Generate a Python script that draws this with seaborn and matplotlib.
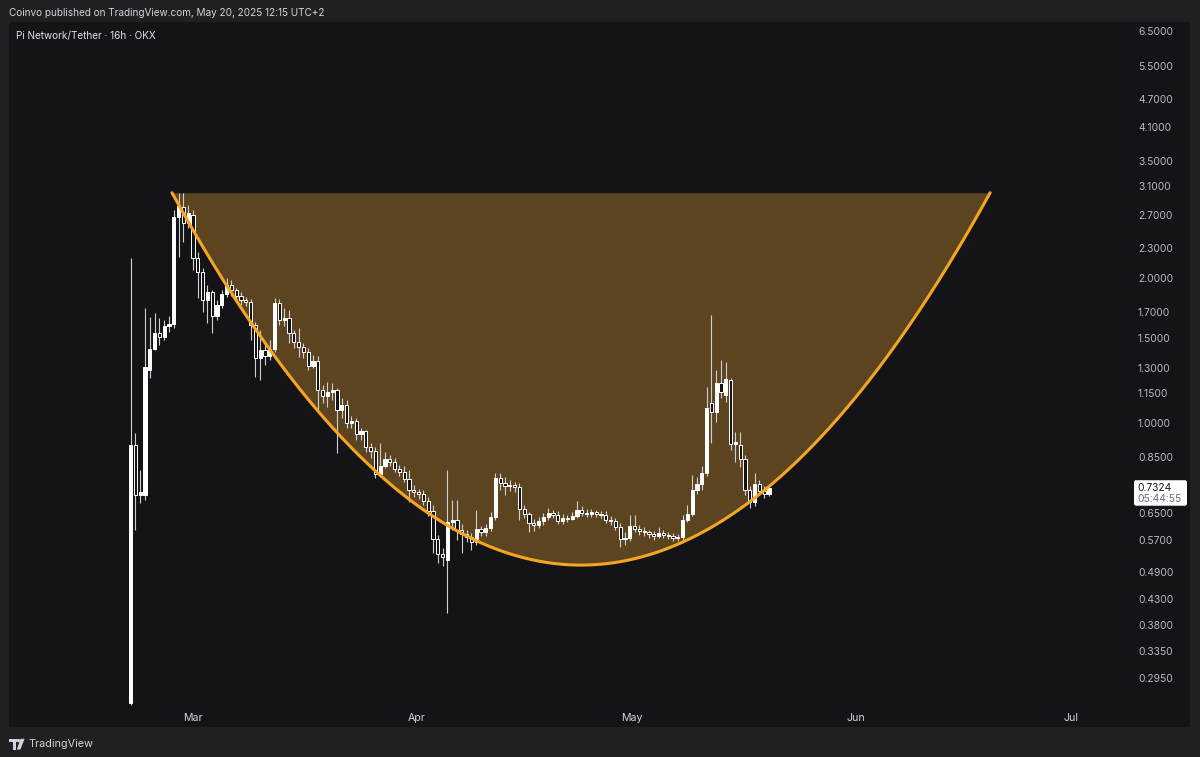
import numpy as np
import pandas as pd
import matplotlib
matplotlib.use("Agg")
import matplotlib.pyplot as plt
import matplotlib.dates as mdates
from matplotlib.ticker import FixedLocator, FuncFormatter, NullLocator
from matplotlib.patches import Rectangle, FancyBboxPatch, Polygon, Circle
from matplotlib.transforms import IdentityTransform
import seaborn as sns

# PI/USDT 16h candles on OKX, from listing to publish time
first_candle = "2025-02-20 08:00"
opens = [
    0.262, 0.898, 0.707, 0.707, 1.286, 1.422, 1.535, 1.506, 1.586, 1.602,
    2.672, 2.803, 2.597, 2.698, 2.196, 2.054, 1.797, 1.867, 1.665, 1.754,
    1.849, 1.930, 1.885, 1.831, 1.797, 1.780, 1.594, 1.361, 1.415, 1.374,
    1.422, 1.771, 1.633, 1.649, 1.535, 1.470, 1.435, 1.402, 1.311, 1.343,
    1.169, 1.136, 1.158, 1.169, 1.062, 1.088, 0.998, 1.007, 0.947, 0.960,
    0.889, 0.873, 0.782, 0.813, 0.841, 0.828, 0.802, 0.790, 0.763, 0.725,
    0.718, 0.711, 0.688, 0.655, 0.573, 0.534, 0.519, 0.622, 0.628, 0.598,
    0.587, 0.579, 0.566, 0.601, 0.592, 0.604, 0.637, 0.767, 0.749, 0.738,
    0.742, 0.735, 0.661, 0.646, 0.619, 0.613, 0.625, 0.637, 0.649, 0.643,
    0.625, 0.634, 0.631, 0.640, 0.658, 0.649, 0.646, 0.652, 0.646, 0.643,
    0.628, 0.625, 0.607, 0.573, 0.576, 0.610, 0.601, 0.595, 0.592, 0.587,
    0.581, 0.590, 0.584, 0.581, 0.576, 0.579, 0.628, 0.646, 0.725, 0.746,
    0.786, 1.100, 1.052, 1.208, 1.141, 1.226, 0.902, 0.898, 0.841, 0.725,
    0.684, 0.746, 0.721, 0.711,
]
highs = [
    2.196, 0.951, 0.797, 1.729, 1.657, 1.689, 1.649, 1.633, 1.665, 2.763,
    2.997, 2.997, 2.830, 2.763, 2.260, 2.094, 1.930, 1.885, 1.797, 1.885,
    1.996, 1.977, 1.903, 1.867, 1.823, 1.805, 1.618, 1.557, 1.470, 1.484,
    1.814, 1.805, 1.729, 1.713, 1.557, 1.571, 1.463, 1.429, 1.381, 1.374,
    1.197, 1.214, 1.209, 1.180, 1.125, 1.114, 1.032, 1.022, 0.975, 0.965,
    0.907, 0.889, 0.907, 0.869, 0.857, 0.845, 0.817, 0.813, 0.797, 0.742,
    0.728, 0.725, 0.700, 0.674, 0.584, 0.549, 0.797, 0.691, 0.691, 0.616,
    0.598, 0.590, 0.658, 0.610, 0.616, 0.652, 0.786, 0.786, 0.771, 0.760,
    0.753, 0.749, 0.674, 0.652, 0.631, 0.637, 0.649, 0.664, 0.658, 0.655,
    0.646, 0.643, 0.652, 0.687, 0.671, 0.661, 0.661, 0.658, 0.655, 0.655,
    0.640, 0.634, 0.619, 0.592, 0.643, 0.643, 0.613, 0.607, 0.598, 0.595,
    0.607, 0.598, 0.592, 0.590, 0.587, 0.643, 0.674, 0.778, 0.771, 0.813,
    1.185, 1.673, 1.286, 1.349, 1.335, 1.237, 0.955, 0.955, 0.857, 0.738,
    0.786, 0.760, 0.738, 0.742,
]
lows = [
    0.259, 0.598, 0.681, 0.691, 1.237, 1.415, 1.449, 1.484, 1.542, 1.571,
    2.207, 2.371, 2.535, 2.074, 1.814, 1.697, 1.610, 1.535, 1.633, 1.729,
    1.823, 1.831, 1.780, 1.754, 1.746, 1.484, 1.243, 1.226, 1.317, 1.349,
    1.402, 1.594, 1.586, 1.463, 1.429, 1.368, 1.361, 1.286, 1.298, 1.052,
    1.098, 1.078, 1.114, 0.865, 1.022, 0.975, 0.975, 0.920, 0.920, 0.869,
    0.845, 0.767, 0.771, 0.805, 0.813, 0.790, 0.774, 0.753, 0.684, 0.700,
    0.694, 0.674, 0.640, 0.536, 0.512, 0.504, 0.4025, 0.598, 0.571, 0.536,
    0.566, 0.544, 0.557, 0.581, 0.581, 0.595, 0.628, 0.725, 0.707, 0.721,
    0.718, 0.628, 0.634, 0.592, 0.595, 0.604, 0.613, 0.628, 0.634, 0.616,
    0.616, 0.622, 0.628, 0.634, 0.640, 0.637, 0.637, 0.637, 0.634, 0.619,
    0.613, 0.598, 0.552, 0.557, 0.568, 0.592, 0.584, 0.581, 0.576, 0.571,
    0.576, 0.576, 0.573, 0.568, 0.568, 0.571, 0.622, 0.640, 0.711, 0.725,
    0.774, 0.907, 1.003, 1.125, 1.103, 0.877, 0.828, 0.809, 0.707, 0.665,
    0.671, 0.711, 0.697, 0.704,
]
closes = [
    0.898, 0.707, 0.718, 1.304, 1.422, 1.535, 1.506, 1.586, 1.602, 2.672,
    2.816, 2.597, 2.724, 2.196, 2.054, 1.797, 1.867, 1.665, 1.754, 1.849,
    1.930, 1.885, 1.831, 1.797, 1.780, 1.594, 1.361, 1.415, 1.374, 1.422,
    1.771, 1.633, 1.649, 1.535, 1.470, 1.435, 1.402, 1.311, 1.343, 1.169,
    1.136, 1.158, 1.169, 1.062, 1.088, 0.998, 1.007, 0.947, 0.960, 0.889,
    0.873, 0.782, 0.813, 0.841, 0.828, 0.802, 0.790, 0.763, 0.725, 0.718,
    0.711, 0.688, 0.655, 0.573, 0.534, 0.526, 0.622, 0.628, 0.598, 0.587,
    0.579, 0.566, 0.601, 0.592, 0.604, 0.637, 0.767, 0.749, 0.738, 0.742,
    0.735, 0.661, 0.646, 0.619, 0.613, 0.625, 0.637, 0.649, 0.643, 0.625,
    0.634, 0.631, 0.640, 0.658, 0.649, 0.646, 0.652, 0.646, 0.643, 0.628,
    0.625, 0.607, 0.573, 0.576, 0.610, 0.601, 0.595, 0.592, 0.587, 0.581,
    0.590, 0.584, 0.581, 0.576, 0.579, 0.628, 0.646, 0.725, 0.746, 0.786,
    1.072, 1.052, 1.208, 1.158, 1.232, 0.902, 0.911, 0.841, 0.725, 0.684,
    0.746, 0.721, 0.711, 0.7324,
]

# cup drawing: start, bottom and end anchors
cup_dates = ["2025-02-26 02:00", "2025-04-23 18:00", "2025-06-19 17:00"]
cup_prices = [3.0, 0.506, 3.0]

price_ticks = [0.295, 0.335, 0.38, 0.43, 0.49, 0.57, 0.65, 0.85, 1.0, 1.15,
               1.3, 1.5, 1.7, 2.0, 2.3, 2.7, 3.1, 3.5, 4.1, 4.7, 5.5, 6.5]
month_ticks = ["2025-03-01", "2025-04-01", "2025-05-01", "2025-06-01", "2025-07-01"]
month_labels = ["Mar", "Apr", "May", "Jun", "Jul"]
last_price = 0.7324
countdown = "05:44:55"

BG = "#202022"
PANEL = "#141418"
TXT = "#d1d4dc"
ORANGE = "#f5a524"
CUP_FILL = "#5c4421"

sns.set_style("dark")
plt.rcParams["font.family"] = ["Inter", "DejaVu Sans"]

W, H = 1200, 757
fig = plt.figure(figsize=(12, 7.57), dpi=100)
fig.patch.set_facecolor(BG)

# chart panel
fig.add_artist(FancyBboxPatch((9 / W, 30 / H), 1181 / W, 705 / H,
                              boxstyle="round,pad=0,rounding_size=0.003",
                              transform=fig.transFigure, facecolor=PANEL,
                              edgecolor="none", zorder=0))

ax = fig.add_axes([9 / W, (H - 706) / H, (1120 - 9) / W, (706 - 22) / H])
ax.patch.set_alpha(0)
for s in ax.spines.values():
    s.set_visible(False)

df = pd.DataFrame({"open": opens, "high": highs, "low": lows, "close": closes})
df["t"] = mdates.date2num(pd.date_range(first_candle, periods=len(df), freq="16h"))
up = df["close"] >= df["open"]

# cup: parabola through the three anchors (time vs log price)
cx = mdates.date2num(pd.to_datetime(cup_dates))
coef = np.polyfit(cx, np.log(cup_prices), 2)
tt = np.linspace(cx[0], cx[-1], 400)
cup = pd.DataFrame({"t": tt, "price": np.exp(np.polyval(coef, tt))})
ax.fill_between(cup["t"], cup["price"], cup_prices[0], color=CUP_FILL,
                linewidth=0, zorder=1)

# candles
ax.vlines(df["t"], df["low"], df["high"], colors="#cfcfd2", linewidth=0.8, zorder=3)
body_lo = df[["open", "close"]].min(axis=1)
body_h = (df["close"] - df["open"]).abs().clip(lower=body_lo * 0.006)
ax.bar(df["t"], body_h, bottom=body_lo, width=0.44,
       color=np.where(up, "#ffffff", PANEL), edgecolor="#ffffff",
       linewidth=0.7, zorder=4)

sns.lineplot(data=cup, x="t", y="price", ax=ax, color=ORANGE, linewidth=2.2,
             zorder=5, legend=False)

ax.set_yscale("log")
mar1 = mdates.date2num(pd.Timestamp("2025-03-01"))
ax.set_xlim(mar1 + (9 - 193) / 7.2, mar1 + (1120 - 193) / 7.2)
ax.set_ylim(0.258, 6.786)

ax.yaxis.tick_right()
ax.yaxis.set_major_locator(FixedLocator(price_ticks))
ax.yaxis.set_minor_locator(NullLocator())
ax.yaxis.set_major_formatter(FuncFormatter(lambda v, p: f"{v:.4f}"))
ax.tick_params(axis="y", length=0, pad=13, labelsize=7.4, labelcolor="#b8bbc3")
ax.set_xticks(mdates.date2num(pd.to_datetime(month_ticks)))
ax.set_xticklabels(month_labels)
ax.xaxis.set_minor_locator(NullLocator())
ax.tick_params(axis="x", length=0, pad=5, labelsize=7.6, labelcolor=TXT)
ax.set_xlabel("")
ax.set_ylabel("")
ax.grid(False)

# last price tag
fig.canvas.draw()
ypx = ax.transData.transform((ax.get_xlim()[0], last_price))[1]
fig.add_artist(FancyBboxPatch((1134, ypx - 18), 53, 25.5,
                              boxstyle="round,pad=0,rounding_size=2",
                              transform=IdentityTransform(), facecolor="#ffffff",
                              edgecolor="none", zorder=6))
fig.text(1137.5, ypx, f"{last_price:.4f}", transform=IdentityTransform(),
         va="center", ha="left", fontsize=7.4, color="#131722", zorder=7)
fig.text(1137.5, ypx - 11.5, countdown, transform=IdentityTransform(),
         va="center", ha="left", fontsize=7.4, color="#6a6d78", zorder=7)

# header and footer
fig.text(9 / W, 1 - 13 / H, "Coinvo published on TradingView.com, May 20, 2025 12:15 UTC+2",
         fontsize=7.2, color=TXT, va="center", ha="left")
fig.text(16 / W, 1 - 36 / H, "Pi Network/Tether · 16h · OKX",
         fontsize=7.2, color="#e0e2e8", va="center", ha="left")
fig.text(28 / W, 13 / H, "TradingView", fontsize=7.8, color=TXT, va="center", ha="left")

logo = [
    Rectangle((9, 15), 7.5, 3.2),
    Rectangle((12.6, 7.5), 3.4, 10.5),
    Circle((18.6, 16.4), 1.7),
    Polygon([(20.6, 18.2), (24.6, 18.2), (20.4, 7.5), (16.8, 7.5)]),
]
for p in logo:
    p.set_transform(IdentityTransform())
    p.set_facecolor(TXT)
    p.set_edgecolor("none")
    fig.add_artist(p)

fig.savefig("out.png", dpi=100, facecolor=BG)
